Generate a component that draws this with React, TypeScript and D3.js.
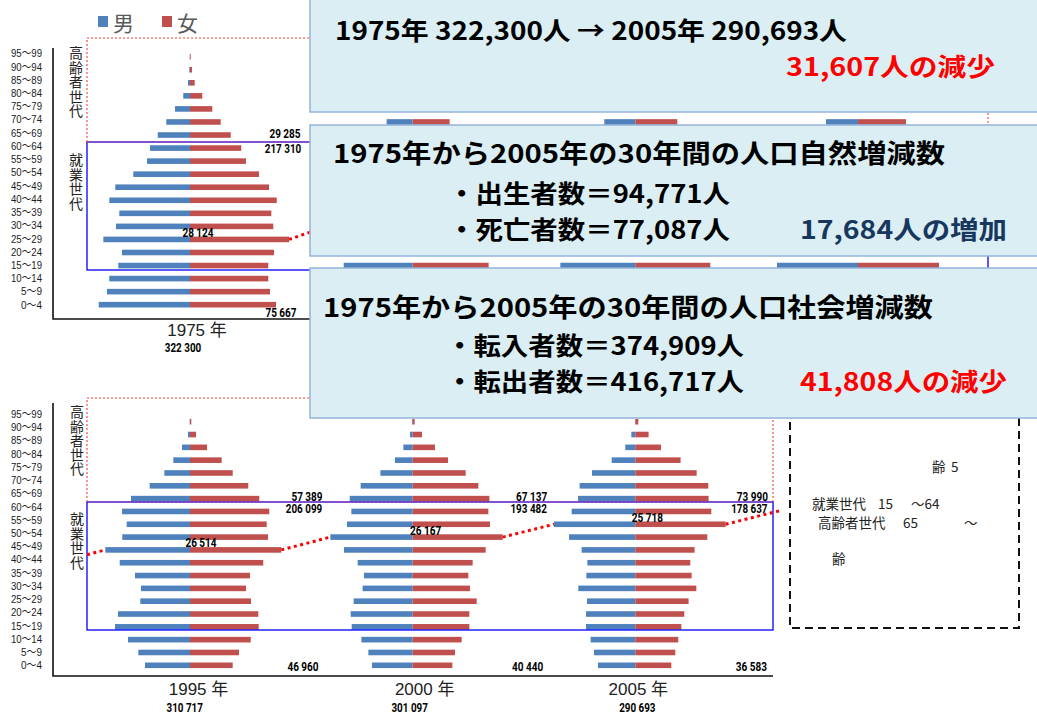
import React from 'react';
import * as d3 from 'd3';

// age groups, bottom to top
const AGES = [
  '0～4', '5～9', '10～14', '15～19', '20～24', '25～29', '30～34', '35～39', '40～44', '45～49',
  '50～54', '55～59', '60～64', '65～69', '70～74', '75～79', '80～84', '85～89', '90～94', '95～99',
];

// persons per age group
const MALE_1975 = [13830, 12570, 12230, 10860, 10300, 13130, 11210, 10710, 12230, 11320, 8590, 6510, 6060, 4890, 3590, 2270, 1020, 300, 110, 50];
const FEMALE_1975 = [13030, 12120, 11860, 11860, 12730, 15000, 12620, 12320, 13140, 11970, 10450, 8480, 7770, 6170, 4650, 3380, 1860, 710, 300, 110];
const MALE_1980 = [12800, 13600, 12500, 10450, 9800, 12000, 13000, 11100, 10600, 12000, 11000, 8300, 6200, 5600, 3940, 2580, 1300, 400, 100, 30];
const FEMALE_1980 = [12200, 12900, 12000, 11510, 12000, 14000, 14600, 12500, 12200, 12900, 11700, 10200, 8300, 7300, 5600, 3790, 2300, 1000, 300, 60];
const MALE_1985 = [11500, 12700, 13400, 11360, 9300, 10600, 11800, 12800, 10900, 10400, 11700, 10600, 7800, 5700, 4700, 3330, 1700, 600, 150, 30];
const FEMALE_1985 = [10900, 12100, 12700, 11360, 11000, 11600, 13700, 14300, 12300, 12000, 12700, 11400, 9900, 7900, 6360, 4700, 3000, 1400, 400, 80];
const MALE_1990 = [8600, 11200, 12500, 12270, 10400, 8300, 9900, 11200, 12400, 10600, 10000, 11200, 10000, 7300, 4850, 3480, 2000, 800, 200, 40];
const FEMALE_1990 = [8200, 10700, 11900, 12270, 11000, 10300, 11000, 13000, 13800, 11900, 11500, 12200, 10900, 9400, 7270, 5900, 3900, 2000, 600, 120];
const MALE_1995 = [6820, 7830, 9390, 11360, 10910, 7530, 7420, 8330, 10650, 12830, 10260, 9590, 10300, 8940, 6110, 3890, 2530, 1210, 300, 50];
const FEMALE_1995 = [6470, 7420, 9200, 10410, 10350, 9240, 8480, 9090, 11100, 13830, 11820, 11620, 12010, 10500, 8830, 6470, 4800, 2580, 910, 200];
const MALE_2000 = [6170, 6710, 7770, 9240, 9390, 8940, 7580, 7380, 8330, 10410, 12470, 9950, 9290, 9540, 7880, 4890, 2680, 1410, 410, 110];
const FEMALE_2000 = [6010, 6410, 7420, 8590, 8590, 9700, 8680, 8440, 9090, 11060, 13640, 11710, 11470, 11620, 9950, 8030, 5350, 3380, 1410, 300];
const MALE_2005 = [5650, 6260, 6770, 7470, 7470, 7320, 8640, 7420, 7270, 8140, 10040, 12320, 9650, 8680, 8440, 6560, 3590, 1520, 610, 50];
const FEMALE_2005 = [5450, 6060, 6510, 6970, 7420, 8070, 9240, 8530, 8330, 8980, 10910, 13680, 11510, 11100, 11060, 9290, 6860, 3890, 2010, 450];

// labels of the four pyramids that are not covered
const SHOWN_YEARS = ['1975', '1995', '2000', '2005'];
const ELDERLY_LABELS = ['29 285', '57 389', '67 137', '73 990'];
const WORKING_LABELS = ['217 310', '206 099', '193 482', '178 637'];
const YOUNG_LABELS = ['75 667', '46 960', '40 440', '36 583'];
const PEAK_LABELS = ['28 124', '26 514', '26 167', '25 718'];
const TOTAL_LABELS = ['322 300', '310 717', '301 097', '290 693'];

const JP = '"Noto Sans CJK JP", "Noto Sans", sans-serif';
const NUM = 'Roboto, "Liberation Sans", sans-serif';
const TICK = '"Liberation Sans", "Noto Sans CJK JP", sans-serif';
const BLUE = '#4f81bd';
const RED = '#c0504d';

const ROWS = {
  top: { bar: [304.7, 56.7], lab: [304.7, 53.3], axis: [48, 319], frame: [38, 142, 270], right: 988, yearY: 330, totalY: 348, elderlyDy: -1, workingDy: 1, youngDy: 8 },
  bottom: { bar: [665.3, 421.7], lab: [665.3, 414], axis: [403, 676], frame: [398, 502, 630], right: 773, yearY: 689.5, totalY: 707.5, elderlyDy: -2, workingDy: -2.5, youngDy: 2 },
};

type RowKey = 'top' | 'bottom';
type Panel = { year: string; row: RowKey; col: number; male: number[]; female: number[]; peak?: string; dx?: number[] };

// dx: elderly, working, young, peak, year, total (relative to pyramid centre)
const PANELS: Panel[] = [
  { year: '1975', row: 'top', col: 0, male: MALE_1975, female: FEMALE_1975, peak: '25～29', dx: [95, 93, 91, 8, 7, -7] },
  { year: '1980', row: 'top', col: 1, male: MALE_1980, female: FEMALE_1980, peak: '30～34' },
  { year: '1985', row: 'top', col: 2, male: MALE_1985, female: FEMALE_1985, peak: '35～39' },
  { year: '1990', row: 'top', col: 3, male: MALE_1990, female: FEMALE_1990, peak: '40～44' },
  { year: '1995', row: 'bottom', col: 0, male: MALE_1995, female: FEMALE_1995, peak: '45～49', dx: [117, 114, 113, 11, 8.5, -5.3] },
  { year: '2000', row: 'bottom', col: 1, male: MALE_2000, female: FEMALE_2000, peak: '50～54', dx: [119, 116, 115, 13, 12, -3] },
  { year: '2005', row: 'bottom', col: 2, male: MALE_2005, female: FEMALE_2005, peak: '55～59', dx: [117, 114, 116, 12, 3, 2] },
];

const FRAME_LEFT = 87;
const AXIS_X = 53;
const BAR_H = 5.6;

// vertical (tategaki) label, one text element
function VText({ text, x, y, step }: { text: string; x: number; y: number; step: number }) {
  const fs = 14;
  return (
    <text x={x} y={y - fs / 2} fontSize={fs} fontFamily={JP} fill="#222"
      style={{ writingMode: 'vertical-rl', letterSpacing: `${step - fs}px` } as React.CSSProperties}>{text}</text>
  );
}

function NumLabel({ x, y, t }: { x: number; y: number; t: string }) {
  return (
    <text x={x} y={y} fontSize={12} fontWeight="bold" fontFamily={NUM} fill="#000" textAnchor="middle" dominantBaseline="central"
      textLength={t.length * 5.2} lengthAdjust="spacingAndGlyphs">{t}</text>
  );
}

export default function App() {
  const W = 1037;
  const H = 713;
  const colX = d3.scalePoint<number>().domain([0, 1, 2, 3]).range([190, 858]);
  const len = d3.scaleLinear().domain([0, 15000]).range([0, 99]);
  const barY = (r: RowKey) => d3.scalePoint<string>().domain(AGES).range(ROWS[r].bar as [number, number]);
  const labY = (r: RowKey) => d3.scalePoint<string>().domain(AGES).range(ROWS[r].lab as [number, number]);

  const cohort = (r: RowKey) => {
    const ps = PANELS.filter(p => p.row === r);
    const y = barY(r);
    const segs: [number, number, number, number][] = [];
    ps.forEach((p, i) => {
      const cx = colX(p.col)!;
      const k = AGES.indexOf(p.peak!);
      const fx = cx + len(p.female[k]);
      const fy = y(p.peak!)!;
      const next = ps[i + 1];
      if (next) {
        const nk = AGES.indexOf(next.peak!);
        segs.push([fx, fy, colX(next.col)! - len(next.male[nk]), y(next.peak!)!]);
      }
    });
    return segs;
  };

  const bottomSegs = cohort('bottom');
  const first = PANELS.find(p => p.row === 'bottom')!;
  const last = PANELS.filter(p => p.row === 'bottom').slice(-1)[0];
  const s0 = bottomSegs[0];
  const slope0 = (s0[3] - s0[1]) / (s0[2] - s0[0]);
  const yb = barY('bottom');
  const firstMx = colX(first.col)! - len(first.male[AGES.indexOf(first.peak!)]);
  const firstMy = yb(first.peak!)!;
  const sl = bottomSegs[bottomSegs.length - 1];
  const slopeL = (sl[3] - sl[1]) / (sl[2] - sl[0]);
  const lastFx = colX(last.col)! + len(last.female[AGES.indexOf(last.peak!)]);
  const lastFy = yb(last.peak!)!;
  const leadIn: [number, number, number, number] = [FRAME_LEFT, firstMy - slope0 * (firstMx - FRAME_LEFT), firstMx, firstMy];
  const leadOut: [number, number, number, number] = [lastFx, lastFy, 780, lastFy + slopeL * (780 - lastFx)];
  const allSegs = [...cohort('top'), leadIn, ...bottomSegs, leadOut];

  const boxes = [
    { y: -2, h: 114 },
    { y: 125, h: 131 },
    { y: 268, h: 150 },
  ];
  const boxTexts = [
    { t: '1975年 322,300人 → 2005年 290,693人', x: 335, y: 29, s: 25, w: 512, c: '#000' },
    { t: '31,607人の減少', x: 786, y: 65, s: 25, w: 209, c: '#ff0000' },
    { t: '1975年から2005年の30年間の人口自然増減数', x: 333, y: 151.5, s: 26, w: 612, c: '#000' },
    { t: '・出生者数＝94,771人', x: 448, y: 191.5, s: 25, w: 282, c: '#000' },
    { t: '・死亡者数＝77,087人', x: 448, y: 227.5, s: 25, w: 282, c: '#000' },
    { t: '17,684人の増加', x: 800, y: 227.5, s: 25, w: 207, c: '#17375e' },
    { t: '1975年から2005年の30年間の人口社会増減数', x: 323, y: 305.5, s: 26, w: 610, c: '#000' },
    { t: '・転入者数＝374,909人', x: 446, y: 344, s: 25, w: 298, c: '#000' },
    { t: '・転出者数＝416,717人', x: 446, y: 379.5, s: 25, w: 298, c: '#000' },
    { t: '41,808人の減少', x: 800, y: 379.5, s: 25, w: 207, c: '#ff0000' },
  ];

  return (
    <svg width={W} height={H} style={{ position: 'absolute', left: 0, top: 0, background: '#fff' }}>
      <rect width={W} height={H} fill="#fff" />

      {/* legend */}
      <rect x={98} y={16} width={10} height={11} fill={BLUE} />
      <text x={113} y={22} fontSize={21} fontFamily={JP} fill="#595959" dominantBaseline="central">男</text>
      <rect x={162} y={16} width={10} height={11} fill={RED} />
      <text x={177} y={22} fontSize={21} fontFamily={JP} fill="#595959" dominantBaseline="central">女</text>

      {(['top', 'bottom'] as RowKey[]).map(r => {
        const R = ROWS[r];
        const ly = labY(r);
        return (
          <g key={r}>
            {AGES.map(a => (
              <text key={a} x={42} y={ly(a)} fontSize={11.5} fontFamily={TICK} fill="#222" textAnchor="end" dominantBaseline="central"
                textLength={a.length === 3 ? 21 : 31} lengthAdjust="spacingAndGlyphs">{a}</text>
            ))}
            <path d={`M${AXIS_X},${R.axis[0]}V${R.axis[1]}H${R.right}`} fill="none" stroke="#111" strokeWidth={1.6} />
          </g>
        );
      })}

      {/* pyramids */}
      {PANELS.map(p => {
        const cx = colX(p.col)!;
        const y = barY(p.row);
        return (
          <g key={p.year}>
            {AGES.map((a, i) => (
              <g key={a}>
                <rect x={cx - len(p.male[i])} y={y(a)! - BAR_H / 2} width={len(p.male[i])} height={BAR_H} fill={BLUE} />
                <rect x={cx} y={y(a)! - BAR_H / 2} width={len(p.female[i])} height={BAR_H} fill={RED} />
              </g>
            ))}
          </g>
        );
      })}

      {/* age-group frames */}
      {(['top', 'bottom'] as RowKey[]).map(r => {
        const R = ROWS[r];
        return (
          <g key={r}>
            <rect x={FRAME_LEFT} y={R.frame[1]} width={R.right - FRAME_LEFT} height={R.frame[2] - R.frame[1]} fill="none" stroke="#0000ff" strokeWidth={1.3} />
            <path d={`M${FRAME_LEFT},${R.frame[1]}V${R.frame[0]}H${R.right}V${R.frame[1]}H${FRAME_LEFT}`} fill="none" stroke="#ff3b3b" strokeWidth={1.1} strokeDasharray="2 2" />
          </g>
        );
      })}

      <VText text="高齢者世代" x={76} y={53} step={14.5} />
      <VText text="就業世代" x={76} y={160} step={14.5} />
      <VText text="高齢者世代" x={77} y={412} step={14.2} />
      <VText text="就業世代" x={77} y={519} step={14.5} />

      {/* cohort line */}
      {allSegs.map((s, i) => (
        <line key={i} x1={s[0]} y1={s[1]} x2={s[2]} y2={s[3]} stroke="#ff0000" strokeWidth={3} strokeDasharray="3 3.5" />
      ))}

      {/* labels */}
      {SHOWN_YEARS.map((yr, i) => {
        const p = PANELS.find(q => q.year === yr)!;
        const R = ROWS[p.row];
        const y = barY(p.row);
        const cx = colX(p.col)!;
        const dx = p.dx!;
        return (
          <g key={yr}>
            <NumLabel x={cx + dx[0]} y={y('65～69')! + R.elderlyDy} t={ELDERLY_LABELS[i]} />
            <NumLabel x={cx + dx[1]} y={y('60～64')! + R.workingDy} t={WORKING_LABELS[i]} />
            <NumLabel x={cx + dx[2]} y={y('0～4')! + R.youngDy} t={YOUNG_LABELS[i]} />
            <NumLabel x={cx + dx[3]} y={y(p.peak!)! - 6.5} t={PEAK_LABELS[i]} />
            <text x={cx + dx[4]} y={R.yearY} fontSize={17} fontFamily={TICK} fill="#222" textAnchor="middle" dominantBaseline="central">{yr} 年</text>
            <NumLabel x={cx + dx[5]} y={R.totalY} t={TOTAL_LABELS[i]} />
          </g>
        );
      })}

      {/* dashed note box */}
      <rect x={790} y={400} width={229} height={228} fill="#fff" stroke="#111" strokeWidth={2} strokeDasharray="8 5" />
      <g fontFamily={JP} fontSize={13.5} fill="#222" dominantBaseline="central">
        <text x={932} y={466}>齢</text>
        <text x={951} y={466}>5</text>
        <text x={812} y={503}>就業世代</text>
        <text x={878} y={503}>15</text>
        <text x={911} y={503}>～64</text>
        <text x={818} y={522}>高齢者世代</text>
        <text x={903} y={522}>65</text>
        <text x={964} y={522}>～</text>
        <text x={832} y={558}>齢</text>
      </g>

      {/* text boxes */}
      {boxes.map((b, i) => (
        <rect key={i} x={310} y={b.y} width={740} height={b.h} fill="#daeef3" stroke="#95b3d7" strokeWidth={1.5} />
      ))}
      {boxTexts.map((b, i) => (
        <text key={i} x={b.x} y={b.y} fontSize={b.s} fontWeight="bold" fontFamily={JP} fill={b.c} dominantBaseline="central"
          textLength={b.w} lengthAdjust="spacingAndGlyphs">{b.t}</text>
      ))}
    </svg>
  );
}
